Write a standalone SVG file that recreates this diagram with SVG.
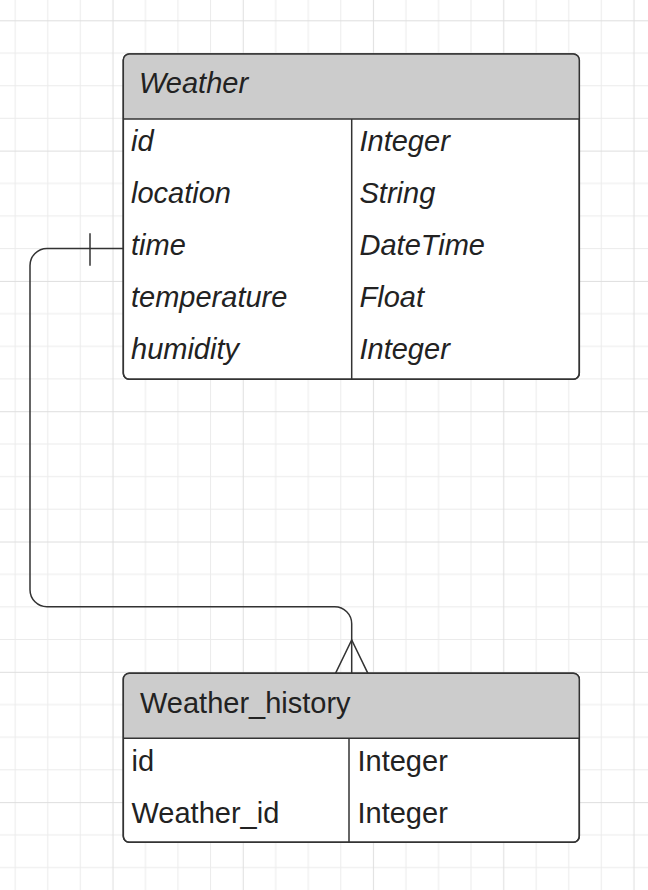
<svg xmlns="http://www.w3.org/2000/svg" width="648" height="890" viewBox="0 0 648 890">
  <defs>
    <pattern id="grid" patternUnits="userSpaceOnUse" x="-33.6" y="4.4" width="130.25" height="130.3">
      <g stroke="#ebebeb" stroke-width="1">
        <line x1="48.8" y1="0" x2="48.8" y2="130.3"/>
        <line x1="81.4" y1="0" x2="81.4" y2="130.3"/>
        <line x1="113.9" y1="0" x2="113.9" y2="130.3"/>
        <line x1="0" y1="48.8" x2="130.25" y2="48.8"/>
        <line x1="0" y1="81.4" x2="130.25" y2="81.4"/>
        <line x1="0" y1="113.9" x2="130.25" y2="113.9"/>
      </g>
      <g stroke="#dedede" stroke-width="1">
        <line x1="16.3" y1="0" x2="16.3" y2="130.3"/>
        <line x1="0" y1="16.3" x2="130.25" y2="16.3"/>
      </g>
    </pattern>
    <style>
      .frame { fill: #ffffff; stroke: #333333; stroke-width: 1.5; }
      .head { fill: #cccccc; }
      .sep { stroke: #333333; stroke-width: 1.5; fill: none; }
      .t { font-family: "Liberation Sans", Arial, sans-serif; font-size: 29px; fill: #222222; }
      .it { font-style: italic; }
      .conn { fill: none; stroke: #333333; stroke-width: 1.5; }
    </style>
  </defs>
  <rect width="648" height="890" fill="#ffffff"/>
  <rect width="648" height="890" fill="url(#grid)"/>

  <g id="connectors">
    <path class="conn" d="M123.3,248.5 H47 A17,17 0 0 0 30,265.5 V589.7 A17,17 0 0 0 47,606.7 H334.7 A17,17 0 0 1 351.7,623.7 V673.3"/>
    <line class="conn" x1="90" y1="233.3" x2="90" y2="265.7"/>
    <path class="conn" d="M335.5,673.3 L351.7,640 L367.9,673.3"/>
  </g>

  <g id="weather">
    <rect class="frame" x="123.3" y="54" width="456" height="325.3" rx="6"/>
    <path class="head" d="M129.3,54 H573.3 A6,6 0 0 1 579.3,60 V119 H123.3 V60 A6,6 0 0 1 129.3,54 Z"/>
    <rect x="123.3" y="54" width="456" height="325.3" rx="6" fill="none" stroke="#333333" stroke-width="1.5"/>
    <line class="sep" x1="123.3" y1="119" x2="579.3" y2="119"/>
    <line class="sep" x1="351.7" y1="119" x2="351.7" y2="379.3"/>
    <text class="t it" x="139" y="92.7">Weather</text>
    <text class="t it" x="131" y="151">id</text>
    <text class="t it" x="131" y="203">location</text>
    <text class="t it" x="131" y="255">time</text>
    <text class="t it" x="131" y="307">temperature</text>
    <text class="t it" x="131" y="359">humidity</text>
    <text class="t it" x="359.5" y="151">Integer</text>
    <text class="t it" x="359.5" y="203">String</text>
    <text class="t it" x="359.5" y="255">DateTime</text>
    <text class="t it" x="359.5" y="307">Float</text>
    <text class="t it" x="359.5" y="359">Integer</text>
  </g>

  <g id="weather_history">
    <rect class="frame" x="123.3" y="673.3" width="456" height="169" rx="6"/>
    <path class="head" d="M129.3,673.3 H573.3 A6,6 0 0 1 579.3,679.3 V738.3 H123.3 V679.3 A6,6 0 0 1 129.3,673.3 Z"/>
    <rect x="123.3" y="673.3" width="456" height="169" rx="6" fill="none" stroke="#333333" stroke-width="1.5"/>
    <line class="sep" x1="123.3" y1="738.3" x2="579.3" y2="738.3"/>
    <line class="sep" x1="349" y1="738.3" x2="349" y2="842.3"/>
    <text class="t" x="140" y="712.7">Weather_history</text>
    <text class="t" x="131.5" y="770.5">id</text>
    <text class="t" x="131.5" y="822.7">Weather_id</text>
    <text class="t" x="357.5" y="770.5">Integer</text>
    <text class="t" x="357.5" y="822.7">Integer</text>
  </g>
</svg>
